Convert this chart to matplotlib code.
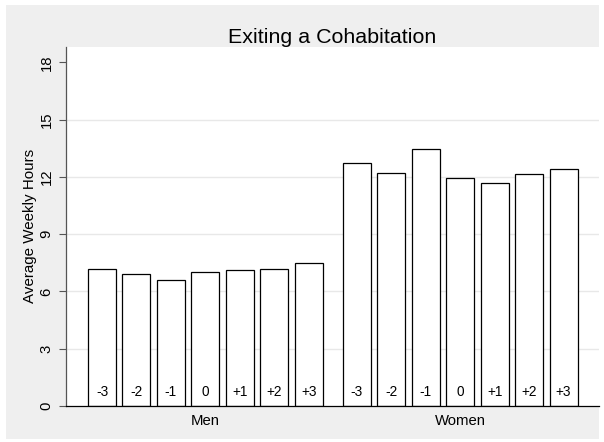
import matplotlib
matplotlib.use('Agg')
import matplotlib.pyplot as plt
from matplotlib.patches import Rectangle
import numpy as np

plt.rcParams['font.family'] = ['Liberation Sans', 'DejaVu Sans']

# data
groups = ['Men', 'Women']
periods = ['-3', '-2', '-1', '0', '+1', '+2', '+3']
men_hours = [7.17, 6.92, 6.59, 7.01, 7.13, 7.20, 7.48]
women_hours = [12.73, 12.22, 13.46, 11.96, 11.66, 12.15, 12.43]
yticks = [0, 3, 6, 9, 12, 15, 18]

fig = plt.figure(figsize=(6.04, 4.42), dpi=100)
fig.patch.set_facecolor('white')
# stata-style light gray graph region
fig.add_artist(Rectangle((6 / 604, 3 / 442), 593 / 604, 434 / 442,
                         transform=fig.transFigure, facecolor='#efefef',
                         edgecolor='none', zorder=-10))

ax = fig.add_axes([66 / 604, 36 / 442, 533 / 604, 359.3 / 442])
ax.set_zorder(1)
ax.set_facecolor('white')

group_gap = 1.393  # extra spacing between the two groups
x_men = np.arange(len(periods))
x_women = x_men + len(periods) + group_gap - 1
bw = 0.813

for xs, vals in [(x_men, men_hours), (x_women, women_hours)]:
    ax.bar(xs, vals, width=bw, facecolor='white', edgecolor='black',
           linewidth=0.9, zorder=3)
    for xi, lab in zip(xs, periods):
        ax.text(xi, 0.72, lab, ha='center', va='center', fontsize=9.8, zorder=4)

ax.set_xlim(x_men[0] - 1.045, x_women[-1] + 1.03)
ax.set_ylim(0, 18.82)

# grid lines (stata leaves out the one at the top)
for yv in yticks[1:-1]:
    ax.axhline(yv, color='#e8e8e8', linewidth=1.0, zorder=1)

ax.set_yticks(yticks)
ax.set_yticklabels([str(t) for t in yticks], rotation=90, va='center',
                   fontsize=10.7)
ax.tick_params(axis='y', length=5, width=0.8, color='#555555', pad=4)

centers = [x_men.mean(), x_women.mean()]
ax.set_xticks(centers)
ax.set_xticklabels(groups, fontsize=10.7)
ax.tick_params(axis='x', length=0, pad=6)

for side in ['top', 'right']:
    ax.spines[side].set_visible(False)
ax.spines['left'].set_color('#555555')
ax.spines['left'].set_linewidth(0.9)
ax.spines['bottom'].set_color('black')
ax.spines['bottom'].set_linewidth(0.9)
ax.spines['bottom'].set_zorder(5)

ax.set_ylabel('Average Weekly Hours', fontsize=10.9, labelpad=2)
ax.set_title('Exiting a Cohabitation', fontsize=15.4, pad=1.5)

plt.savefig('out.png', dpi=100)
